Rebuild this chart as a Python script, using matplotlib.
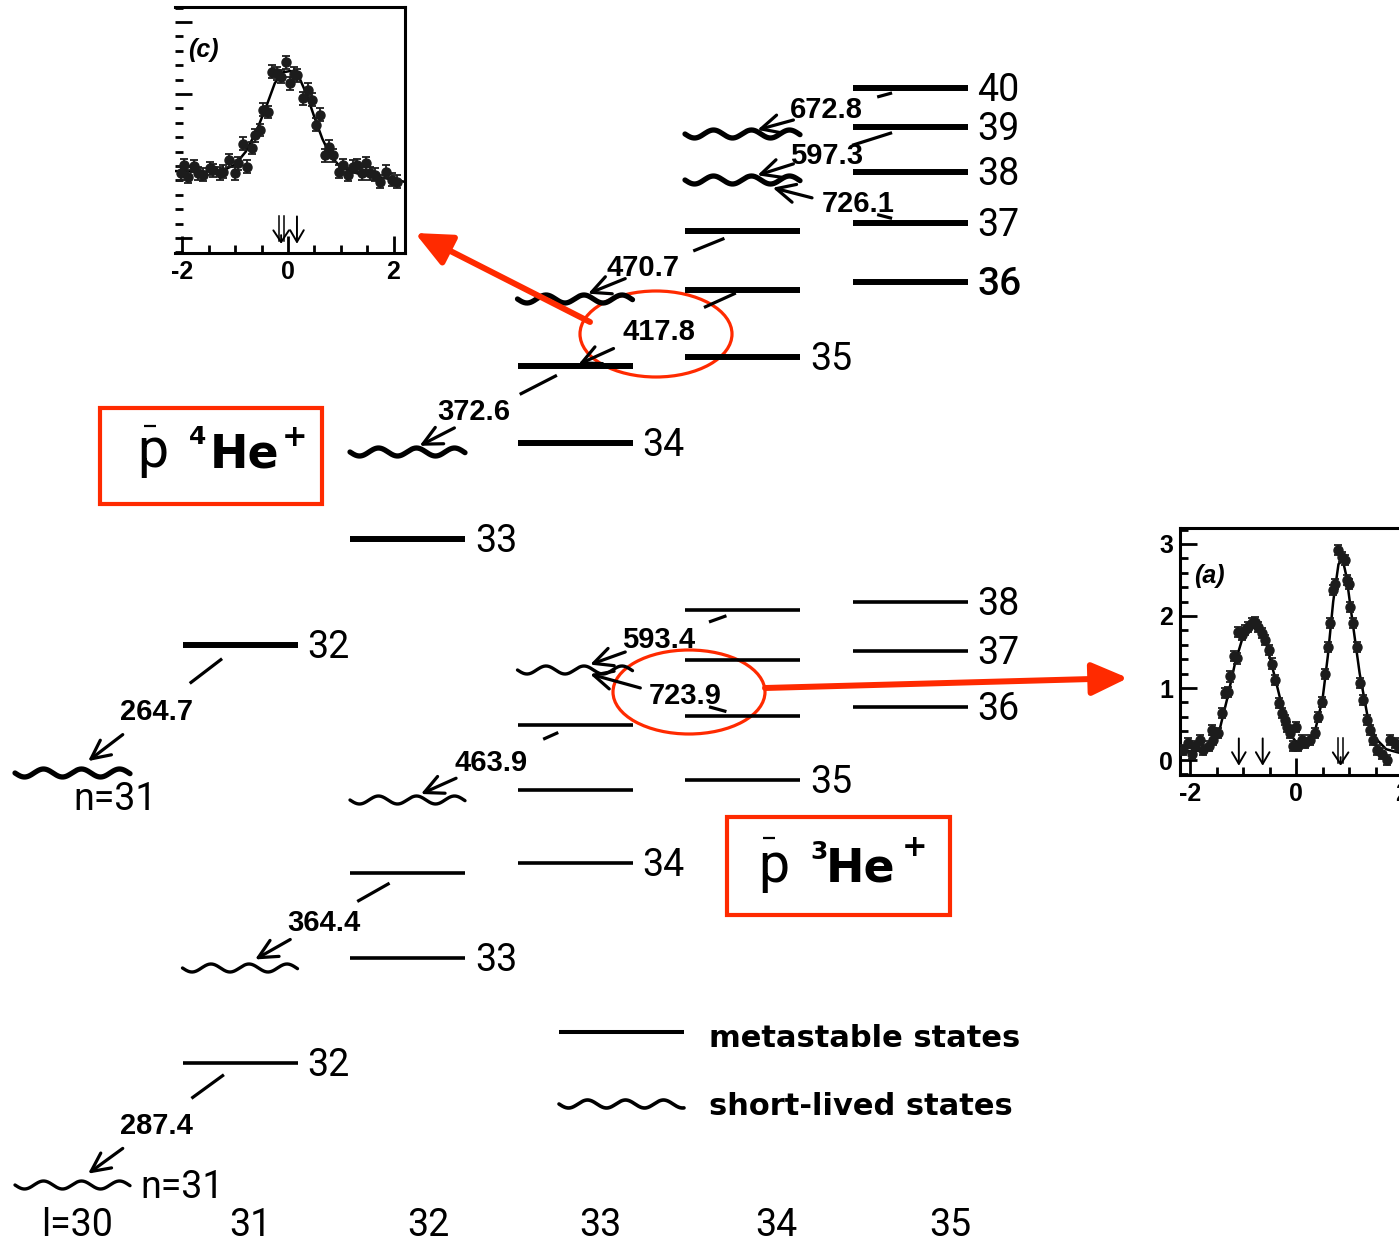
import numpy as np
import matplotlib
matplotlib.use("Agg")
import matplotlib.pyplot as plt
from matplotlib.patches import Ellipse, Rectangle, FancyArrowPatch
from matplotlib.ticker import MultipleLocator, FixedLocator

plt.rcParams['axes.unicode_minus'] = False

# ------------------------------------------------------------------ data
# antiprotonic 4He+ levels: angular momentum l, principal n, schematic height (picture units, 0 = top)
he4_l = [30, 31, 32, 32, 33, 33, 33, 34, 34, 34, 34, 34, 35, 35, 35, 35, 35]
he4_n = [31, 32, 33, 34, 34, 35, 36, 35, 36, 37, 38, 39, 36, 37, 38, 39, 40]
he4_y = [773, 645, 539, 452, 443, 366, 299, 357, 290, 231, 180, 134, 282, 223, 172, 127, 88]
he4_short = [1, 0, 0, 1, 0, 0, 1, 0, 0, 0, 1, 1, 0, 0, 0, 0, 0]
he4_label = ['n=31', '32', '33', '', '34', '', '', '35', '', '', '', '', '36', '37', '38', '39', '40']

# antiprotonic 3He+ levels
he3_l = [30, 31, 31, 32, 32, 32, 33, 33, 33, 33, 34, 34, 34, 34, 35, 35, 35]
he3_n = [31, 32, 33, 33, 34, 35, 34, 35, 36, 37, 35, 36, 37, 38, 36, 37, 38]
he3_y = [1185, 1063, 968, 958, 873, 800, 863, 790, 725, 670, 780, 716, 660, 610, 707, 651, 602]
he3_short = [1, 0, 1, 0, 0, 1, 0, 0, 0, 1, 0, 0, 0, 0, 0, 0, 0]
he3_label = ['n=31', '32', '', '33', '', '', '34', '', '', '', '35', '', '', '', '36', '37', '38']

# laser transitions (l, n) -> (l, n), wavelength in nm
he4_tr_from = [(31, 32), (33, 35), (34, 36), (34, 37), (35, 40), (35, 39), (35, 37)]
he4_tr_to = [(30, 31), (32, 34), (33, 35), (33, 36), (34, 39), (34, 38), (34, 38)]
he4_tr_nm = [264.7, 372.6, 417.8, 470.7, 672.8, 597.3, 726.1]
he3_tr_from = [(31, 32), (32, 34), (33, 36), (34, 38), (34, 36)]
he3_tr_to = [(30, 31), (31, 33), (32, 35), (33, 37), (33, 37)]
he3_tr_nm = [287.4, 364.4, 463.9, 593.4, 723.9]

# inset (c): resonance profile, p4He+ 417.8 nm
c_x = [-2.02, -1.98, -1.89, -1.79, -1.70, -1.61, -1.48, -1.42, -1.29, -1.23,
       -1.11, -1.00, -0.94, -0.86, -0.77, -0.69, -0.63, -0.53, -0.47, -0.37,
       -0.31, -0.21, -0.13, -0.04, 0.03, 0.11, 0.18, 0.29, 0.37, 0.45,
       0.54, 0.61, 0.70, 0.78, 0.86, 0.97, 1.05, 1.14, 1.24, 1.30,
       1.40, 1.48, 1.55, 1.65, 1.74, 1.86, 1.97, 2.06]
c_y = [0.90, 1.01, 0.85, 1.00, 0.90, 0.88, 0.97, 0.94, 0.90, 0.92,
       1.08, 0.90, 1.04, 1.31, 0.99, 1.25, 1.43, 1.50, 1.78, 1.75,
       2.31, 2.29, 2.24, 2.44, 2.15, 2.28, 2.26, 1.94, 2.06, 1.92,
       1.57, 1.71, 1.15, 1.27, 1.15, 0.92, 1.01, 0.88, 0.99, 1.01,
       0.90, 1.04, 0.90, 0.88, 0.78, 0.92, 0.81, 0.78]
c_fit_x = [-2.14, -1.6, -1.2, -1.0, -0.8, -0.6, -0.4, -0.25, -0.1, 0.05, 0.2, 0.35,
           0.5, 0.65, 0.8, 1.0, 1.3, 1.7, 2.22]
c_fit_y = [0.93, 0.92, 0.95, 1.02, 1.20, 1.48, 1.85, 2.15, 2.30, 2.32, 2.25, 2.00,
           1.68, 1.38, 1.15, 0.98, 0.90, 0.85, 0.78]
c_single = [0.17]
c_double = [-0.13]

# inset (a): resonance profile, p3He+ 723.9 nm
a_x = [-2.13, -2.03, -1.97, -1.91, -1.81, -1.75, -1.65, -1.59, -1.56, -1.47,
       -1.40, -1.34, -1.28, -1.25, -1.18, -1.12, -1.09, -1.02, -0.96, -0.90,
       -0.84, -0.77, -0.71, -0.65, -0.58, -0.52, -0.46, -0.40, -0.33, -0.27,
       -0.21, -0.18, -0.11, -0.05, -0.01, 0.04, 0.11, 0.17, 0.26, 0.36,
       0.42, 0.48, 0.55, 0.61, 0.64, 0.69, 0.74, 0.80, 0.86, 0.92,
       0.96, 0.99, 1.02, 1.08, 1.15, 1.21, 1.27, 1.33, 1.40, 1.46,
       1.52, 1.62, 1.71, 1.77, 1.87, 1.93]
a_y = [0.14, 0.23, 0.09, 0.19, 0.28, 0.14, 0.19, 0.42, 0.28, 0.37,
       0.65, 0.93, 0.95, 1.16, 1.44, 1.41, 1.78, 1.74, 1.81, 1.85,
       1.90, 1.92, 1.85, 1.76, 1.67, 1.53, 1.34, 1.11, 0.79, 0.65,
       0.56, 0.46, 0.37, 0.19, 0.46, 0.19, 0.28, 0.23, 0.28, 0.37,
       0.60, 0.81, 1.20, 1.57, 1.90, 2.36, 2.45, 2.92, 2.82, 2.78,
       2.50, 2.45, 2.13, 1.90, 1.57, 1.07, 0.83, 0.56, 0.42, 0.28,
       0.14, 0.09, 0.00, 0.28, 0.23, 0.19]
a_fit_x = [-2.19, -1.8, -1.6, -1.45, -1.3, -1.15, -1.0, -0.85, -0.7, -0.55, -0.4, -0.25,
           -0.1, 0.05, 0.2, 0.35, 0.5, 0.6, 0.7, 0.8, 0.88, 0.95, 1.05, 1.2, 1.35, 1.5,
           1.7, 1.95, 2.3]
a_fit_y = [0.12, 0.13, 0.20, 0.40, 0.85, 1.35, 1.72, 1.87, 1.82, 1.58, 1.15, 0.70,
           0.35, 0.20, 0.22, 0.38, 0.85, 1.45, 2.20, 2.72, 2.78, 2.55, 2.00, 1.20, 0.60,
           0.30, 0.15, 0.10, 0.08]
a_single = [-1.08, -0.63]
a_double = [0.84]

bottom_labels = ['l=30', '31', '32', '33', '34', '35']
legend_labels = ['metastable states', 'short-lived states']

# ------------------------------------------------------------------ layout / style
W, H = 1399, 1242
RED = '#ff2a00'
X0, DX = 72.5, 167.5          # picture x of the l=30 column and column spacing
HW = 57.5 / DX                # half width of a level bar (in l units)

LEVEL_FONT = dict(family=['Roboto', 'DejaVu Sans'], weight='normal', size=27)
NUM_FONT = dict(family=['Liberation Sans', 'DejaVu Sans'], weight='bold', size=21)
TICK_FONT = dict(family=['Liberation Sans', 'DejaVu Sans'], weight='bold')

fig = plt.figure(figsize=(W / 100, H / 100), dpi=100)
ax = fig.add_axes([0, 0, 1, 1])
ax.set_xlim(30 - X0 / DX, 30 + (W - X0) / DX)
ax.set_ylim(H, 0)
ax.axis('off')


def X(px):
    """picture x (pixels) -> l axis units, for annotations"""
    return 30 + (px - X0) / DX


def wavy(x0, x1, y, lw, amp=4.0, period=38.0):
    t = np.linspace(0, (x1 - x0) * DX, 300)
    ax.plot(x0 + t / DX, y + amp * np.sin(2 * np.pi * t / period), color='k', lw=lw,
            solid_capstyle='round', solid_joinstyle='round')


def draw_levels(ls, ns, ys, short, labels, lw_line, lw_wave, label_override, emphasis=()):
    pos = {}
    for l, n, y, s, lab in zip(ls, ns, ys, short, labels):
        pos[(l, n)] = y
        if s:
            wavy(l - HW, l + HW, y, lw_wave)
        else:
            ax.plot([l - HW, l + HW], [y, y], color='k', lw=lw_line, solid_capstyle='butt')
        if lab:
            font = dict(LEVEL_FONT)
            if (l, n) in emphasis:
                font.update(weight='medium', size=28)
            if (l, n) in label_override:
                dx_px, dy_px, ha = label_override[(l, n)]
                ax.text(l + dx_px / DX, y + dy_px, lab, ha=ha, va='baseline', **font)
            else:
                ax.text(l + HW + 10 / DX, y + 13, lab, ha='left', va='baseline', **font)
    return pos


def draw_transitions(pos, frm, to, nm, geo):
    for (l1, n1), (l2, n2), wl, (s0, s1, a0, a1, ldx, ldy) in zip(frm, to, nm, geo):
        y1, y2 = pos[(l1, n1)], pos[(l2, n2)]

        def P(t):
            return (l1 + (l2 - l1) * t, y1 + (y2 - y1) * t)
        (xa, ya), (xb, yb) = P(s0), P(s1)
        ax.plot([xa, xb], [ya, yb], color='k', lw=2.3, solid_capstyle='butt')
        ax.annotate('', xy=P(a1), xytext=P(a0),
                    arrowprops=dict(arrowstyle='->,head_length=0.45,head_width=0.22',
                                    lw=2.3, color='k', shrinkA=0, shrinkB=0,
                                    mutation_scale=30))
        lx, ly = P(0.5)
        ax.text(lx + ldx / DX, ly + ldy + 10.5, f'{wl:.1f}', ha='center', va='baseline',
                **NUM_FONT)


he4_pos = draw_levels(he4_l, he4_n, he4_y, he4_short, he4_label, 4.3, 3.8,
                      {(30, 31): (43, 37, 'center')}, emphasis=[(35, 36)])
he3_pos = draw_levels(he3_l, he3_n, he3_y, he3_short, he3_label, 2.6, 2.4, {})

he4_geo = [(0.107, 0.30, 0.70, 0.907, 0, 0), (0.108, 0.33, 0.72, 0.928, -17, 0),
           (0.04, 0.23, 0.77, 0.98, 0, 2), (0.108, 0.294, 0.70, 0.922, -16, 0),
           (0.107, 0.196, 0.696, 0.911, 0, -4), (0.107, 0.345, 0.696, 0.911, 0, 0),
           (0.107, 0.196, 0.585, 0.82, 32, 0)]
he3_geo = [(0.096, 0.29, 0.70, 0.907, 0, 0), (0.107, 0.30, 0.70, 0.91, 0, 0),
           (0.10, 0.19, 0.71, 0.92, 0, -2), (0.096, 0.20, 0.70, 0.91, 0, -2),
           (0.096, 0.20, 0.61, 0.91, 26, 0)]
draw_transitions(he4_pos, he4_tr_from, he4_tr_to, he4_tr_nm, he4_geo)
draw_transitions(he3_pos, he3_tr_from, he3_tr_to, he3_tr_nm, he3_geo)

# bottom l labels
for lab, px in zip(bottom_labels, [77, 250, 428, 600, 776, 950]):
    ax.text(X(px), 1236, lab, ha='center', va='baseline', **LEVEL_FONT)

# legend
ax.plot([X(559), X(684)], [1032, 1032], color='k', lw=2.9, solid_capstyle='butt')
wavy(X(559), X(684), 1104, 2.6)
for lab, yb in zip(legend_labels, [1047, 1115]):
    ax.text(X(709), yb, lab, ha='left', va='baseline', family=['DejaVu Sans'],
            weight='bold', size=22)

# species boxes
for (bx0, by0, bx1, by1) in [(100, 408, 322, 504), (727, 817, 950, 915)]:
    ax.add_patch(Rectangle((X(bx0), by0), (bx1 - bx0) / DX, by1 - by0, fill=False,
                           ec=RED, lw=3.0))
for (ppx, base, barx, bary, supx, supy, mass, hex_, plx, ply) in [
        (137, 467, (144, 156), 426, 189, 437, '4', 210, 282, 437),
        (758, 882, (763, 775), 838, 810, 852, '3', 826, 902, 847)]:
    ax.text(X(ppx), base, 'p', ha='left', va='baseline', family=['Roboto', 'DejaVu Sans'],
            weight='normal', size=40)
    ax.plot([X(barx[0]), X(barx[1])], [bary, bary], color='k', lw=1.6, solid_capstyle='butt')
    ax.text(X(supx), supy, mass, ha='left', va='center', family=['DejaVu Sans'],
            weight='bold', size=18)
    ax.text(X(hex_), base, 'He', ha='left', va='baseline', family=['DejaVu Sans'],
            weight='bold', size=33)
    ax.text(X(plx), ply, '+', ha='left', va='center', family=['DejaVu Sans'],
            weight='bold', size=22)

# red ellipses and arrows
ax.add_patch(Ellipse((X(656), 334), 152 / DX, 86, fill=False, ec=RED, lw=2.3))
ax.add_patch(Ellipse((X(689), 692), 152 / DX, 84, fill=False, ec=RED, lw=2.3))
for pa, pb in [((X(590), 322), (X(415), 233)), ((X(765), 688), (X(1128), 678))]:
    ax.add_patch(FancyArrowPatch(pa, pb, arrowstyle='-|>,head_length=1.1,head_width=0.5',
                                 mutation_scale=20, lw=4.3, color=RED, shrinkA=0,
                                 shrinkB=0, zorder=5))


# ------------------------------------------------------------------ insets
def make_inset(rect, xlim, ylim, left_spine, ylabels):
    a = fig.add_axes(rect)
    a.set_xlim(*xlim)
    a.set_ylim(*ylim)
    for s in a.spines.values():
        s.set_linewidth(2.2)
    a.spines['left'].set_visible(left_spine)
    a.xaxis.set_major_locator(FixedLocator([-2, 0, 2]))
    a.xaxis.set_minor_locator(MultipleLocator(0.5))
    a.yaxis.set_major_locator(FixedLocator([0, 1, 2, 3]))
    a.yaxis.set_minor_locator(MultipleLocator(0.2))
    a.tick_params(which='major', direction='in', length=12.5, width=2, top=False,
                  right=False, pad=5)
    a.tick_params(which='minor', direction='in', length=6, width=2, top=False, right=False)
    a.set_xticklabels(['-2', '0', '2'], fontsize=18, **TICK_FONT)
    if ylabels:
        a.set_yticklabels(['0', '1', '2', '3'], fontsize=18, **TICK_FONT)
    else:
        a.tick_params(labelleft=False)
    return a


def draw_profile(a, xs, ys, err, fx, fy, singles, doubles, tag, tagpos, px_per_unit):
    a.plot(fx, fy, color='k', lw=1.8, zorder=2)
    a.errorbar(xs, ys, yerr=err, fmt='o', ms=6.5, color='#1c1c1c', ecolor='#1c1c1c',
               elinewidth=1.3, capsize=3.2, capthick=1.3, zorder=3)
    y0, y1 = 0.30, -0.08
    for x in singles:
        a.annotate('', xy=(x, y1), xytext=(x, y0),
                   arrowprops=dict(arrowstyle='->,head_length=0.6,head_width=0.35', lw=1.4,
                                   color='k', shrinkA=0, shrinkB=0, mutation_scale=14))
    d = 2.5 / px_per_unit
    for x in doubles:
        for xx in (x - d, x + d):
            a.plot([xx, xx], [y0, y1 + 0.04], color='k', lw=1.1)
        a.annotate('', xy=(x, y1), xytext=(x, y1 + 0.12),
                   arrowprops=dict(arrowstyle='->,head_length=0.6,head_width=0.4', lw=1.4,
                                   color='k', shrinkA=0, shrinkB=0, mutation_scale=14))
    a.text(tagpos[0], tagpos[1], tag, transform=a.transAxes, ha='left', va='center',
           family=['Liberation Sans', 'DejaVu Sans'], weight='bold', style='italic',
           size=18)


axc = make_inset([175 / W, 1 - 253 / H, 230 / W, 246 / H], (-2.142, 2.218), (-0.208, 3.208),
                 False, False)
draw_profile(axc, c_x, c_y, 0.09, c_fit_x, c_fit_y, c_single, c_double, '(c)',
             (0.055, 0.825), 52.75)

axa = make_inset([1180 / W, 1 - 775 / H, 238 / W, 247 / H], (-2.19, 2.30), (-0.208, 3.222),
                 True, True)
draw_profile(axa, a_x, a_y, 0.07, a_fit_x, a_fit_y, a_single, a_double, '(a)',
             (0.06, 0.806), 53.0)

fig.savefig('out.png', dpi=100)
